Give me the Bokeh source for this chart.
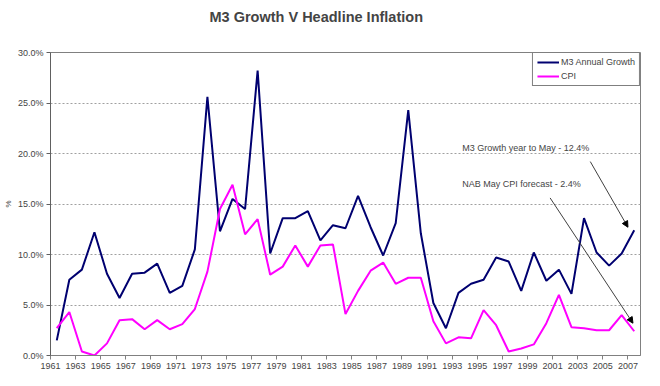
from bokeh.plotting import figure
from bokeh.models import (Range1d, FixedTicker, PrintfTickFormatter, Legend, LegendItem,
                          Arrow, NormalHead, Label, Title)
from bokeh.embed import file_html
from bokeh.resources import INLINE

years = list(range(1961, 2008))
m3_growth = [1.5, 7.5, 8.5, 12.2, 8.1, 5.7, 8.1, 8.2, 9.1, 6.2,
             6.9, 10.5, 25.6, 12.3, 15.5, 14.5, 28.2, 10.1, 13.6, 13.6,
             14.3, 11.4, 12.9, 12.6, 15.8, 12.7, 9.9, 13.1, 24.3, 12.1,
             5.2, 2.7, 6.2, 7.1, 7.5, 9.7, 9.3, 6.4, 10.2, 7.4,
             8.5, 6.1, 13.6, 10.2, 8.9, 10.1, 12.4]
cpi = [2.7, 4.3, 0.4, 0.0, 1.2, 3.5, 3.6, 2.6, 3.5, 2.6,
       3.1, 4.6, 8.3, 14.5, 16.9, 12.0, 13.5, 8.0, 8.8, 10.9,
       8.8, 10.9, 11.0, 4.1, 6.4, 8.4, 9.2, 7.1, 7.7, 7.7,
       3.4, 1.2, 1.8, 1.7, 4.5, 3.0, 0.4, 0.7, 1.1, 3.2,
       6.0, 2.8, 2.7, 2.5, 2.5, 4.0, 2.4]
tick_years = list(range(1961, 2008, 2))
y_ticks = [0, 5, 10, 15, 20, 25, 30]

FONT = "Liberation Sans"

# categories are centred between year ticks
xs = [y + 0.5 for y in years]

p = figure(width=650, height=376, output_backend="svg", toolbar_location=None,
           x_range=Range1d(1961, 2008), y_range=Range1d(0, 30),
           min_border_left=46, min_border_right=10, min_border_top=52, min_border_bottom=21)

p.title.text = "M3 Growth V Headline Inflation"
p.title.text_font = FONT
p.title.text_font_size = "14.5px"
p.title.text_font_style = "bold"
p.title.align = "left"
p.title.offset = 159
# spacer that pushes the title upwards
p.add_layout(Title(text=" ", text_font_size="10px"), "above")

p.outline_line_color = "#808080"
p.outline_line_width = 1
p.background_fill_color = "white"
p.border_fill_color = "white"

# axes
p.xaxis.ticker = FixedTicker(ticks=tick_years)
p.xaxis.major_label_overrides = {y: str(y) for y in tick_years}
p.xaxis.minor_tick_line_color = None
p.xaxis.major_tick_in = 0
p.xaxis.major_tick_out = 4
p.xaxis.axis_line_color = "#808080"
p.xaxis.major_tick_line_color = "#808080"
p.xaxis.major_label_text_font = FONT
p.xaxis.major_label_text_font_size = "9px"
p.xaxis.major_label_standoff = 3

p.yaxis.ticker = FixedTicker(ticks=y_ticks)
p.yaxis.formatter = PrintfTickFormatter(format="%.1f%%")
p.yaxis.minor_tick_line_color = None
p.yaxis.major_tick_in = 0
p.yaxis.major_tick_out = 4
p.yaxis.axis_line_color = "#606060"
p.yaxis.major_tick_line_color = "#606060"
p.yaxis.major_label_text_font = FONT
p.yaxis.major_label_text_font_size = "9px"
p.yaxis.major_label_standoff = 3
p.yaxis.axis_label = "%"
p.yaxis.axis_label_text_font = FONT
p.yaxis.axis_label_text_font_size = "8px"
p.yaxis.axis_label_text_font_style = "normal"
p.yaxis.axis_label_standoff = 2

p.xgrid.grid_line_color = None
p.ygrid.ticker = FixedTicker(ticks=[5, 10, 15, 20, 25])
p.ygrid.grid_line_color = "#A0A0A0"
p.ygrid.grid_line_dash = "2 2"
p.ygrid.grid_line_width = 1

r_m3 = p.line(xs, m3_growth, line_color="#000070", line_width=2)
r_cpi = p.line(xs, cpi, line_color="#FF00FF", line_width=2)

legend = Legend(items=[LegendItem(label="M3 Annual Growth", renderers=[r_m3]),
                       LegendItem(label="CPI", renderers=[r_cpi])],
                location="top_right", margin=0, padding=4, spacing=4,
                glyph_width=22, glyph_height=10, label_height=10, label_standoff=2,
                border_line_color="black", border_line_width=1,
                label_text_font=FONT, label_text_font_size="9px",
                background_fill_alpha=1.0)
p.add_layout(legend)

# annotations
p.add_layout(Label(x=1993.8, y=20.5, text="M3 Growth year to May - 12.4%",
                   text_font=FONT, text_font_size="9px", text_baseline="middle"))
p.add_layout(Label(x=1993.8, y=17.0, text="NAB May CPI forecast - 2.4%",
                   text_font=FONT, text_font_size="9px", text_baseline="middle"))
p.add_layout(Arrow(x_start=2004.0, y_start=19.2, x_end=2007.0, y_end=12.7,
                   line_color="#404040", line_width=1,
                   end=NormalHead(size=6, fill_color="black", line_color="black")))
p.add_layout(Arrow(x_start=2000.8, y_start=15.6, x_end=2007.4, y_end=3.2,
                   line_color="#404040", line_width=1,
                   end=NormalHead(size=6, fill_color="black", line_color="black")))

open("out.html", "w").write(file_html(p, INLINE))
